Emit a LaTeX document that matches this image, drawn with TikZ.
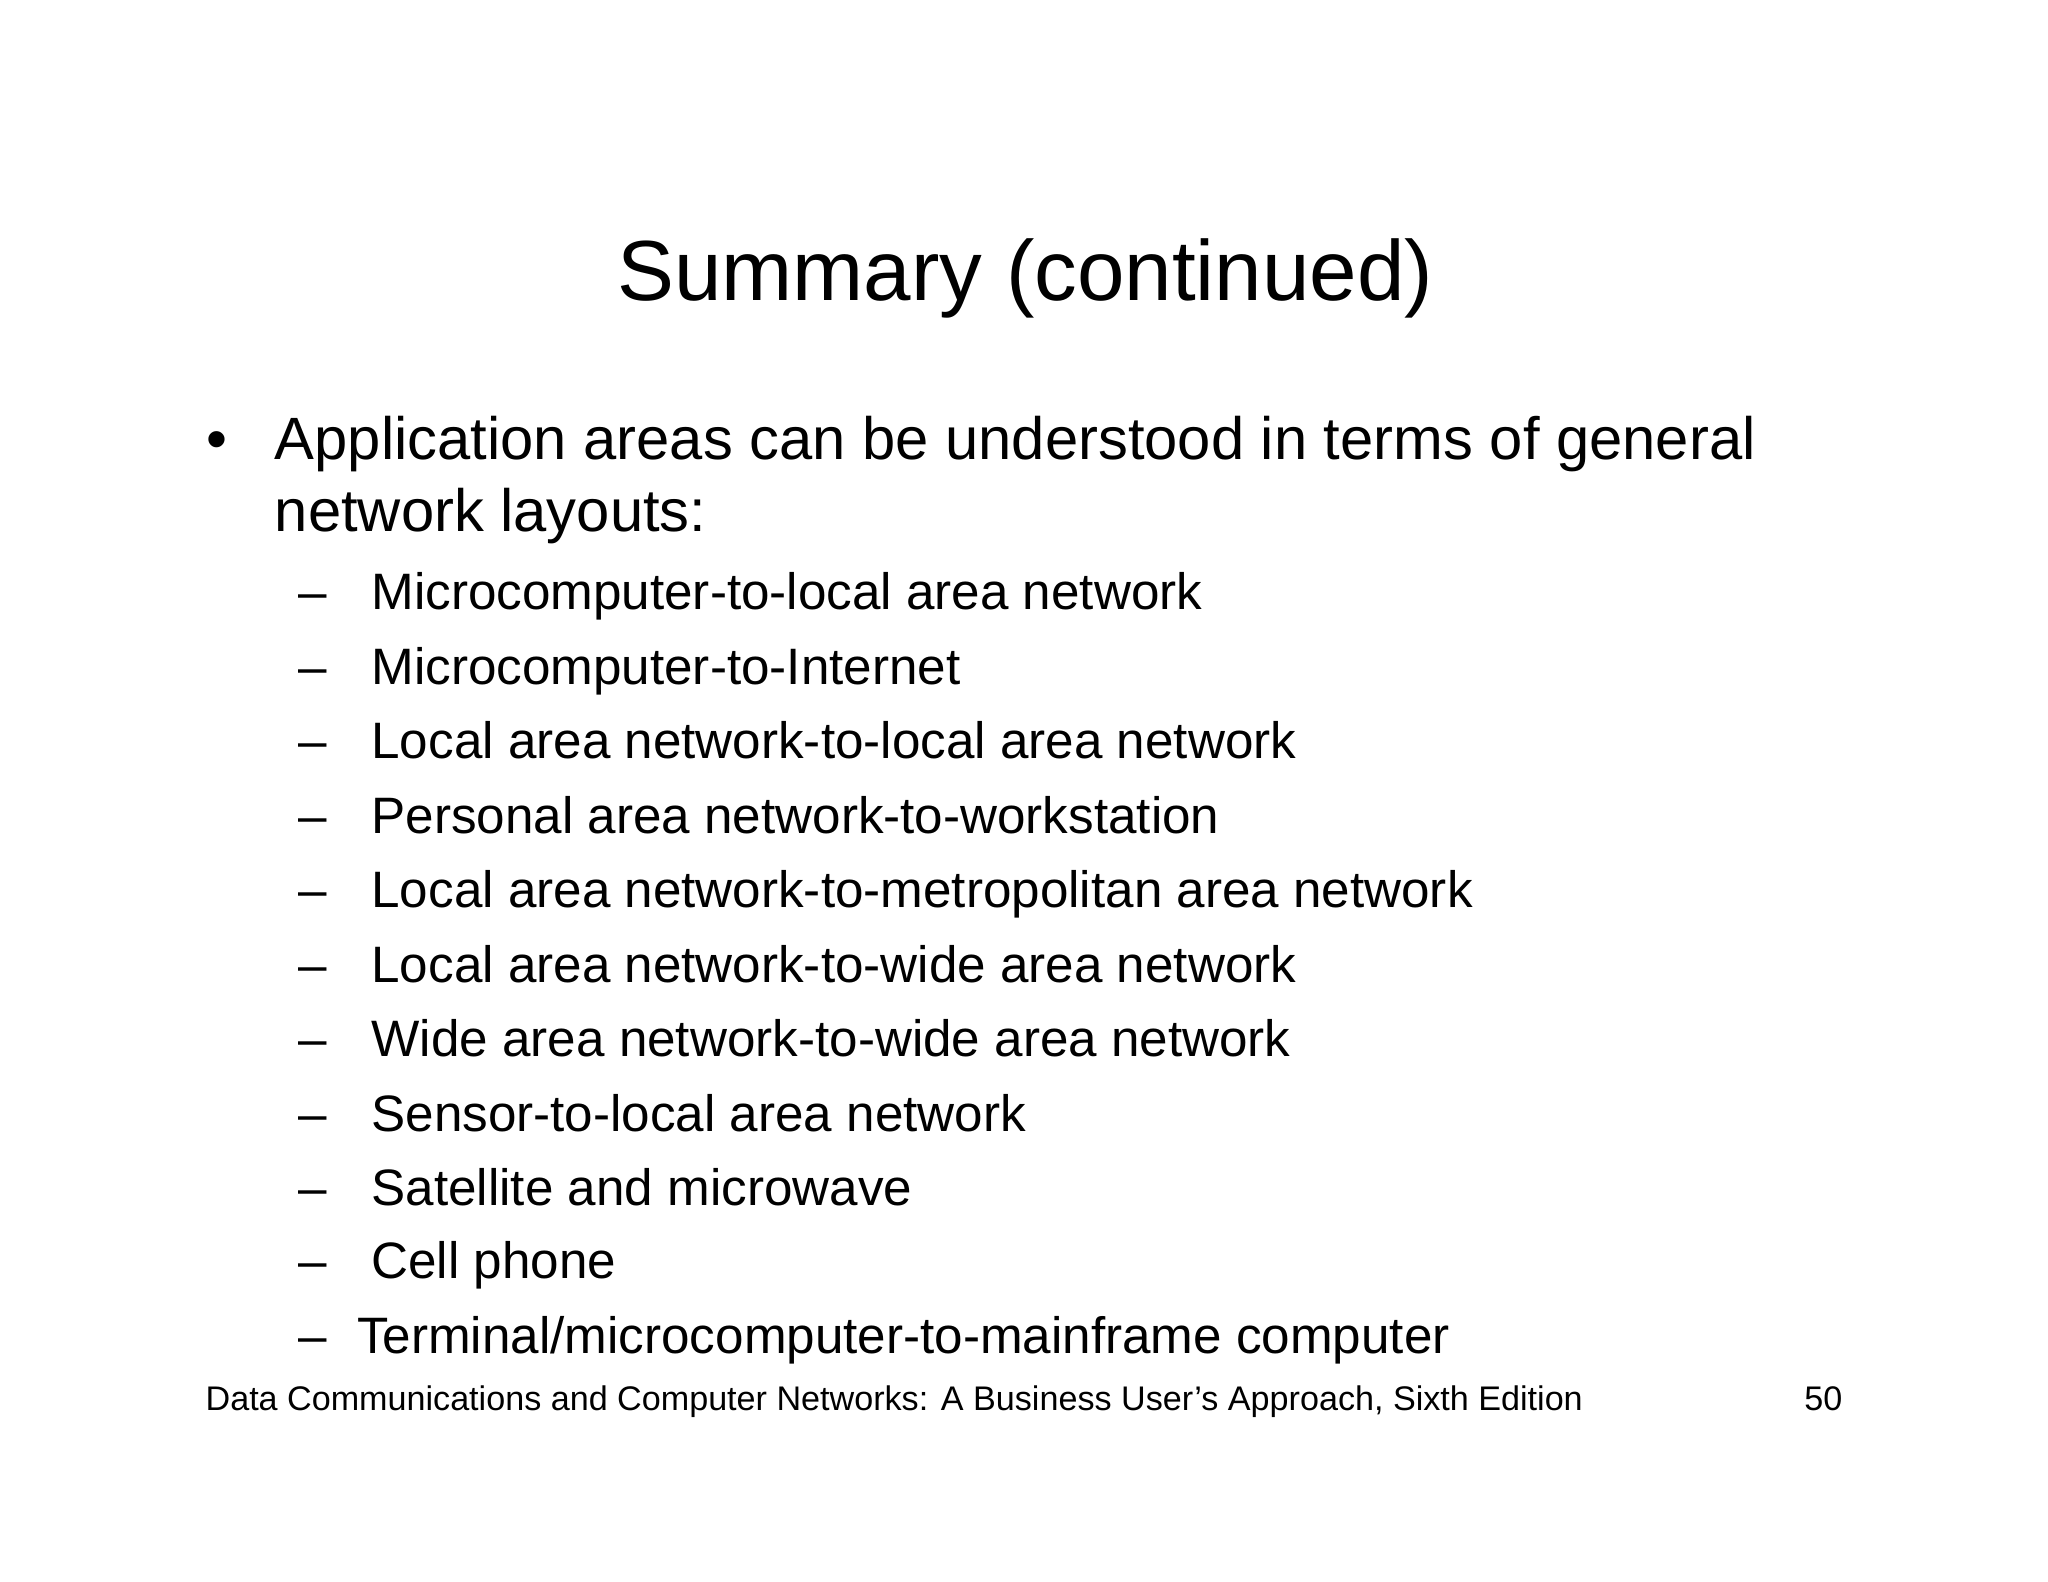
\documentclass[tikz,border=0pt]{standalone}
\usepackage{fontspec}
\setmainfont{Liberation Sans}
\begin{document}
\begin{tikzpicture}[x=0.4592pt,y=-0.4592pt,
  t/.style={anchor=base west,inner sep=0pt},
  main/.style={t,font=\fontsize{21}{25}\selectfont},
  sub/.style={t,font=\fontsize{18}{22}\selectfont}]
\useasboundingbox[fill=white] (0,0) rectangle (1568,1211);
\node[anchor=base,inner sep=0pt,font=\fontsize{30}{36}\selectfont] (title) at (785,230) {Summary (continued)};
\node[main] (b) at (158,352) {•};
\node[main] (l1) at (210,352) {Application areas can be understood in terms of general};
\node[main] (l2) at (210,407) {network layouts:};
\foreach \y/\s [count=\i] in {467/Microcomputer-to-local area network,
  524/Microcomputer-to-Internet,
  581/Local area network-to-local area network,
  638/Personal area network-to-workstation,
  695/Local area network-to-metropolitan area network,
  752/Local area network-to-wide area network,
  809/Wide area network-to-wide area network,
  866/Sensor-to-local area network,
  923/Satellite and microwave,
  979/Cell phone}{
  \node[sub] (d\i) at (228,\y) {–};
  \node[sub] (s\i) at (284,\y) {\s};
}
\node[sub] (d11) at (228,1036) {–};
\node[sub] (s11) at (273,1036) {Terminal/microcomputer-to-mainframe computer};
\node[t,font=\fontsize{12}{14}\selectfont] (foot) at (157,1080) {Data Communications and Computer Networks: A Business User's Approach, Sixth Edition};
\node[t,font=\fontsize{12}{14}\selectfont] (pg) at (1381,1080) {50};
\end{tikzpicture}
\end{document}
